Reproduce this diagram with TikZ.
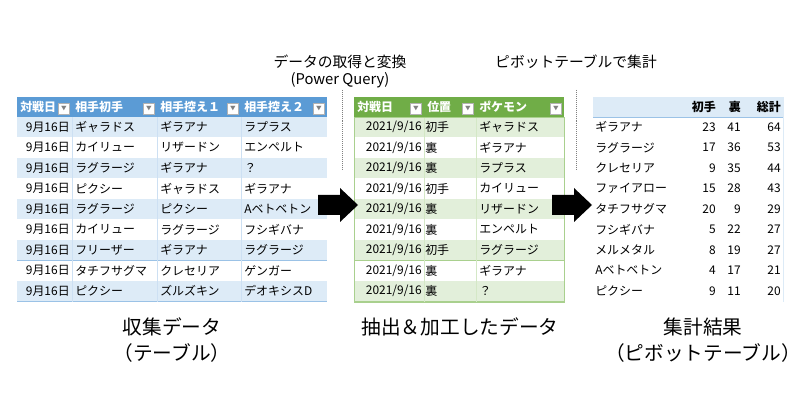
\documentclass[tikz,border=0pt]{standalone}
\usepackage{fontspec}
\setmainfont{Noto Sans CJK JP}
\definecolor{hdblue}{HTML}{5B9BD5}
\definecolor{lblue}{HTML}{DDEBF7}
\definecolor{lnblue}{HTML}{9BC2E6}
\definecolor{hdgreen}{HTML}{70AD47}
\definecolor{lgreen}{HTML}{E2EFDA}
\definecolor{lngreen}{HTML}{A9D08E}
\tikzset{
  cell/.style={anchor=west, inner sep=0pt, font=\fontsize{8.5}{9}\selectfont},
  num/.style={anchor=east, inner sep=0pt, font=\fontsize{8.5}{9}\selectfont},
  head/.style={anchor=west, inner sep=0pt, font=\fontsize{8.5}{9}\selectfont\bfseries, text=white},
  btn/.style={draw=gray!60, fill=white, minimum size=8pt, inner sep=0pt, font=\fontsize{4}{4}\selectfont, text=gray},
  caption/.style={font=\fontsize{14}{16}\selectfont},
  note/.style={font=\fontsize{10.5}{12}\selectfont}
}
\newcommand{\blockarrow}[2]{% x of tail, y of centre
  \fill[black] (#1,#2-10) -- (#1+22,#2-10) -- (#1+22,#2-17) -- (#1+40,#2)
    -- (#1+22,#2+17) -- (#1+22,#2+10) -- (#1,#2+10) -- cycle;}
\begin{document}
\begin{tikzpicture}[x=0.025cm, y=-0.025cm]
  \useasboundingbox (0,0) rectangle (800,419);
  \def\rh{20.5}

  % collected data table
  \fill[hdblue] (17,97) rectangle (327,117);
  \foreach \r in {0,...,8} {
    \pgfmathsetmacro{\ya}{117+\r*\rh}
    \pgfmathparse{mod(\r,2)==0 ? "lblue" : "white"}
    \fill[\pgfmathresult] (17,\ya) rectangle (327,\ya+\rh);
    \draw[lnblue] (17,\ya+\rh) -- (327,\ya+\rh);
    \foreach \cx in {72,157,241} \draw[lnblue!50] (\cx,\ya) -- (\cx,\ya+\rh);
  }
  \node[head] (a1) at (20,107) {対戦日};
  \node[head] (a2) at (75,107) {相手初手};
  \node[head] (a3) at (160,107) {相手控え１};
  \node[head] (a4) at (244,107) {相手控え２};
  \foreach \bx/\n in {64/ba1,149/ba2,233/ba3,319/ba4} \node[btn] (\n) at (\bx,109) {▼};
  \foreach \r/\p/\q/\s in {0/ギャラドス/ギラアナ/ラプラス, 1/カイリュー/リザードン/エンペルト,
      2/ラグラージ/ギラアナ/？, 3/ピクシー/ギャラドス/ギラアナ, 4/ラグラージ/ピクシー/Aベトベトン,
      5/カイリュー/ラグラージ/フシギバナ, 6/フリーザー/ギラアナ/ラグラージ,
      7/タチフサグマ/クレセリア/ゲンガー, 8/ピクシー/ズルズキン/デオキシスD} {
    \pgfmathsetmacro{\yc}{127+\r*\rh}
    \node[num] (ad\r) at (70,\yc) {9月16日};
    \node[cell] (ap\r) at (75,\yc) {\p};
    \node[cell] (aq\r) at (160,\yc) {\q};
    \node[cell] (as\r) at (244,\yc) {\s};
  }

  % extracted data table
  \fill[hdgreen] (354,97) rectangle (564,117);
  \foreach \r in {0,...,8} {
    \pgfmathsetmacro{\ya}{117+\r*\rh}
    \pgfmathparse{mod(\r,2)==0 ? "lgreen" : "white"}
    \fill[\pgfmathresult] (354,\ya) rectangle (564,\ya+\rh);
    \draw[lngreen] (354,\ya+\rh) -- (564,\ya+\rh);
    \foreach \cx in {424,476} \draw[lngreen!50] (\cx,\ya) -- (\cx,\ya+\rh);
  }
  \draw[lngreen] (354,117) rectangle (564,302);
  \node[head] (b1) at (357,107) {対戦日};
  \node[head] (b2) at (427,107) {位置};
  \node[head] (b3) at (479,107) {ポケモン};
  \foreach \bx/\n in {416/bb1,468/bb2,556/bb3} \node[btn] (\n) at (\bx,109) {▼};
  \foreach \r/\p/\q in {0/初手/ギャラドス, 1/裏/ギラアナ, 2/裏/ラプラス, 3/初手/カイリュー,
      4/裏/リザードン, 5/裏/エンペルト, 6/初手/ラグラージ, 7/裏/ギラアナ, 8/裏/？} {
    \pgfmathsetmacro{\yc}{127+\r*\rh}
    \node[num] (bd\r) at (422,\yc) {2021/9/16};
    \node[cell] (bp\r) at (425,\yc) {\p};
    \node[cell] (bq\r) at (479,\yc) {\q};
  }

  % pivot table
  \fill[lblue] (593,97) rectangle (783,117);
  \draw[lnblue] (593,117) -- (783,117);
  \draw[lblue] (783,97) -- (783,302);
  \node[num, font=\fontsize{8.5}{9}\selectfont\bfseries] (c1) at (716,107) {初手};
  \node[num, font=\fontsize{8.5}{9}\selectfont\bfseries] (c2) at (741,107) {裏};
  \node[num, font=\fontsize{8.5}{9}\selectfont\bfseries] (c3) at (781,107) {総計};
  \foreach \r/\p/\m/\n/\t in {0/ギラアナ/23/41/64, 1/ラグラージ/17/36/53, 2/クレセリア/9/35/44,
      3/ファイアロー/15/28/43, 4/タチフサグマ/20/9/29, 5/フシギバナ/5/22/27,
      6/メルメタル/8/19/27, 7/Aベトベトン/4/17/21, 8/ピクシー/9/11/20} {
    \pgfmathsetmacro{\yc}{127+\r*\rh}
    \node[cell] (cp\r) at (595,\yc) {\p};
    \node[num] (cm\r) at (716,\yc) {\m};
    \node[num] (cn\r) at (741,\yc) {\n};
    \node[num] (ct\r) at (781,\yc) {\t};
  }

  % arrows and separators
  \blockarrow{318}{205}
  \blockarrow{552}{205}
  \draw[densely dotted, gray] (342,90) -- (342,170);
  \draw[densely dotted, gray] (576,90) -- (576,170);

  \node[note] (t1) at (340,62) {データの取得と変換};
  \node[note] (t2) at (340,80) {(Power Query)};
  \node[note] (t3) at (576,62) {ピボットテーブルで集計};

  \node[caption] (l1) at (172,327) {収集データ};
  \node[caption] (l2) at (172,353) {（テーブル）};
  \node[caption] (l3) at (460,327) {抽出＆加工したデータ};
  \node[caption] (l4) at (703,327) {集計結果};
  \node[caption] (l5) at (703,353) {（ピボットテーブル）};
\end{tikzpicture}
\end{document}
